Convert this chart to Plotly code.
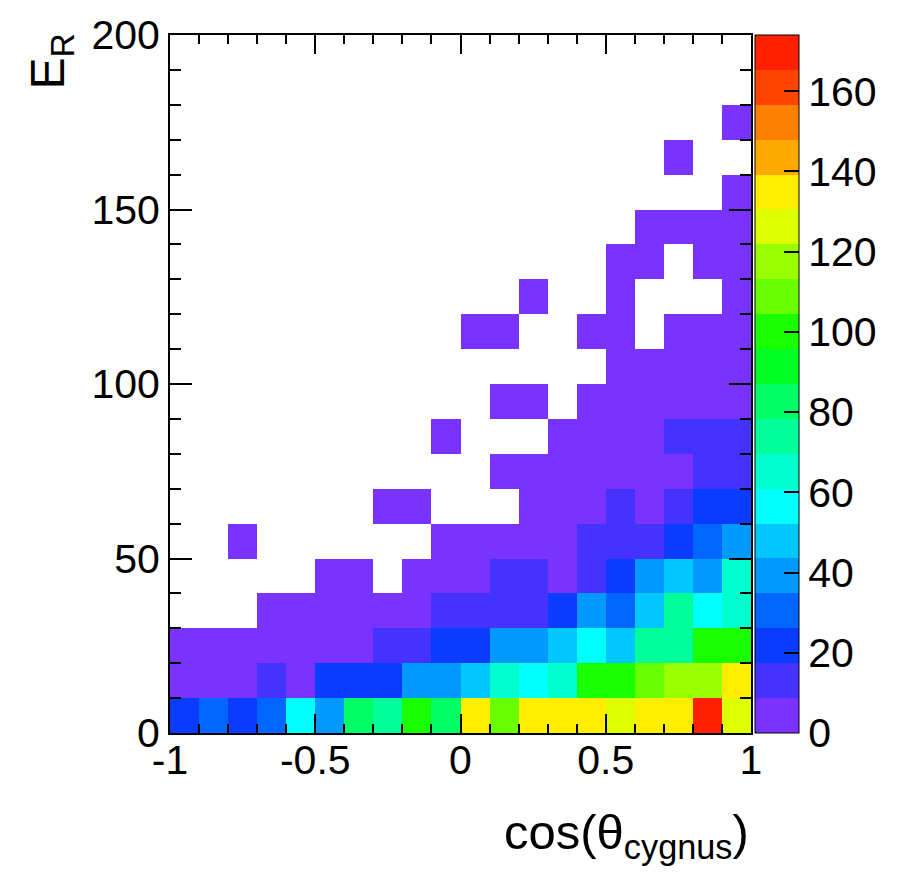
import plotly.graph_objects as go

# ---- data ----
cos_bins = [-0.95, -0.85, -0.75, -0.65, -0.55, -0.45, -0.35, -0.25, -0.15, -0.05,
            0.05, 0.15, 0.25, 0.35, 0.45, 0.55, 0.65, 0.75, 0.85, 0.95]
er_bins = [5, 15, 25, 35, 45, 55, 65, 75, 85, 95,
           105, 115, 125, 135, 145, 155, 165, 175, 185, 195]

# counts per E_R bin (row 0 = 0-10), columns along cos(theta)
counts = [
    [22, 31, 23, 32, 57, 40, 82, 75, 97, 83, 136, 110, 137, 134, 138, 127, 135, 136, 174, 125],
    [5, 7, 6, 12, 8, 20, 22, 21, 40, 41, 47, 66, 58, 64, 97, 99, 108, 118, 116, 136],
    [3, 4, 5, 6, 5, 7, 8, 11, 13, 20, 22, 40, 38, 48, 57, 46, 74, 76, 96, 99],
    [0, 0, 0, 3, 4, 5, 4, 6, 7, 12, 14, 12, 15, 21, 39, 30, 49, 73, 58, 66],
    [0, 0, 0, 0, 0, 2, 3, 0, 4, 5, 7, 13, 14, 8, 12, 22, 40, 48, 41, 64],
    [0, 0, 1, 0, 0, 0, 0, 0, 0, 3, 5, 6, 7, 8, 12, 13, 11, 21, 30, 40],
    [0, 0, 0, 0, 0, 0, 0, 2, 1, 0, 0, 0, 4, 6, 7, 10, 8, 12, 20, 23],
    [0, 0, 0, 0, 0, 0, 0, 0, 0, 0, 0, 3, 4, 5, 6, 7, 8, 8, 11, 13],
    [0, 0, 0, 0, 0, 0, 0, 0, 0, 1, 0, 0, 0, 3, 4, 5, 7, 10, 11, 12],
    [0, 0, 0, 0, 0, 0, 0, 0, 0, 0, 0, 2, 1, 0, 3, 4, 5, 6, 7, 8],
    [0, 0, 0, 0, 0, 0, 0, 0, 0, 0, 0, 0, 0, 0, 0, 2, 3, 4, 5, 6],
    [0, 0, 0, 0, 0, 0, 0, 0, 0, 0, 1, 1, 0, 0, 2, 2, 0, 3, 4, 5],
    [0, 0, 0, 0, 0, 0, 0, 0, 0, 0, 0, 0, 1, 0, 0, 2, 0, 0, 0, 3],
    [0, 0, 0, 0, 0, 0, 0, 0, 0, 0, 0, 0, 0, 0, 0, 1, 2, 0, 3, 4],
    [0, 0, 0, 0, 0, 0, 0, 0, 0, 0, 0, 0, 0, 0, 0, 0, 1, 2, 2, 3],
    [0, 0, 0, 0, 0, 0, 0, 0, 0, 0, 0, 0, 0, 0, 0, 0, 0, 0, 0, 2],
    [0, 0, 0, 0, 0, 0, 0, 0, 0, 0, 0, 0, 0, 0, 0, 0, 0, 1, 0, 0],
    [0, 0, 0, 0, 0, 0, 0, 0, 0, 0, 0, 0, 0, 0, 0, 0, 0, 0, 0, 1],
    [0, 0, 0, 0, 0, 0, 0, 0, 0, 0, 0, 0, 0, 0, 0, 0, 0, 0, 0, 0],
    [0, 0, 0, 0, 0, 0, 0, 0, 0, 0, 0, 0, 0, 0, 0, 0, 0, 0, 0, 0],
]

x_tickvals = [-1, -0.5, 0, 0.5, 1]
x_ticktext = ["-1", "-0.5", "0", "0.5", "1"]
y_tickvals = [0, 50, 100, 150, 200]
z_tickvals = [0, 20, 40, 60, 80, 100, 120, 140, 160]

zmin, zmax = 0, 174
band_colors = ["#7a33ff", "#4433ff", "#0a3cff", "#0066ff", "#0099ff",
               "#00c8ff", "#00ffff", "#00ffcc", "#00ff99", "#00ff66",
               "#00ff22", "#1aff00", "#6aff00", "#99ff00", "#ddff00",
               "#ffee00", "#ffaa00", "#ff7f00", "#ff4400", "#ff2000"]

# ---- figure ----
n = len(band_colors)
colorscale = []
for i, c in enumerate(band_colors):
    colorscale.append([i / n, c])
    colorscale.append([(i + 1) / n, c])

z = [[(v if v > 0 else None) for v in row] for row in counts]

FONT = "Liberation Sans, Arial, Helvetica, sans-serif"

fig = go.Figure(go.Heatmap(
    x=cos_bins, y=er_bins, z=z,
    zmin=zmin, zmax=zmax, colorscale=colorscale,
    hoverongaps=False,
    colorbar=dict(
        x=1.0069, xanchor="left", xpad=0, ypad=0,
        y=0.5, yanchor="middle", len=1.0, lenmode="fraction",
        thickness=44, thicknessmode="pixels",
        outlinecolor="black", outlinewidth=1,
        tickvals=z_tickvals, ticks="inside", ticklen=15, tickwidth=2,
        tickcolor="black",
        tickfont=dict(family=FONT, size=41, color="black"),
    ),
))

axis_common = dict(
    showgrid=False, zeroline=False,
    showline=True, linecolor="black", linewidth=2,
    ticks="inside", tickcolor="black", tickwidth=2,
    mirror="ticks",
    tickfont=dict(family=FONT, size=41, color="black"),
)

fig.update_xaxes(**axis_common, range=[-1, 1], tickvals=x_tickvals,
                 ticktext=x_ticktext, ticklen=19, ticklabelstandoff=-10,
                 minor=dict(dtick=0.1, tick0=-1, ticklen=9, tickwidth=2,
                            tickcolor="black", ticks="inside"))
fig.update_yaxes(**axis_common, range=[0, 200], tickvals=y_tickvals,
                 ticklen=22,
                 minor=dict(dtick=10, tick0=0, ticklen=11, tickwidth=2,
                            tickcolor="black", ticks="inside"))

fig.add_annotation(
    text="cos(θ<sub>cygnus</sub>)", xref="paper", yref="paper",
    x=1.0, y=-0.1, xanchor="right", yanchor="top", showarrow=False,
    font=dict(family=FONT, size=49, color="black"))
fig.add_annotation(
    text="E<sub>R</sub>", xref="paper", yref="paper",
    x=-0.205, y=1.005, xanchor="center", yanchor="top", showarrow=False,
    textangle=-90,
    font=dict(family=FONT, size=48, color="black"))

fig.update_layout(
    width=905, height=876, autosize=False,
    margin=dict(l=170, r=153, t=27, b=143, pad=0),
    paper_bgcolor="white", plot_bgcolor="white",
    showlegend=False,
)

fig.write_html("out.html")
